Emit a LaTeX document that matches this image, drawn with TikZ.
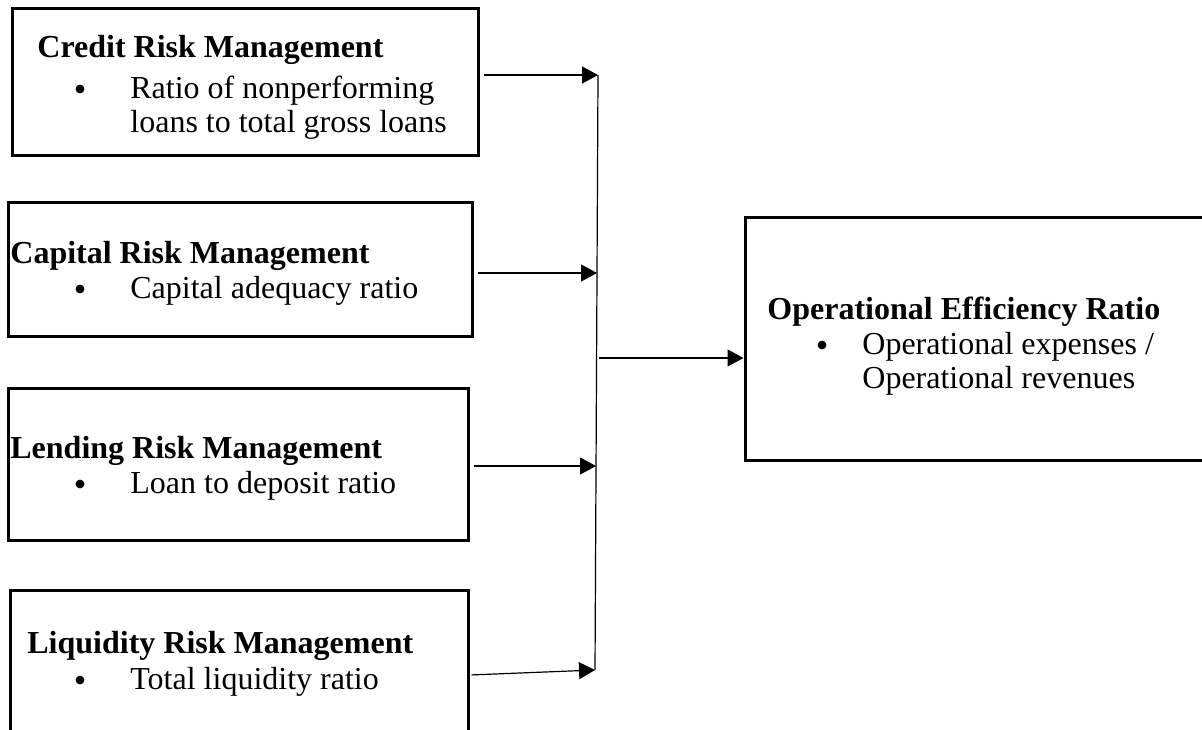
\documentclass[tikz,border=0pt]{standalone}
\usepackage{fontspec}
\setmainfont{Liberation Serif}
\usetikzlibrary{arrows.meta,fit}

\tikzset{
  riskbox/.style={draw, line width=1.5pt, inner sep=0pt},
  head/.style={anchor=base west, inner sep=0pt, font=\fontsize{16}{18}\selectfont\bfseries},
  point/.style={anchor=base west, inner sep=0pt, align=left, font=\fontsize{16}{17}\selectfont},
  dot/.style={circle, fill, inner sep=0pt, minimum size=4.4pt},
  feed/.style={-{Triangle[length=8pt,width=8.5pt]}, line width=0.6pt},
}

\begin{document}
\begin{tikzpicture}[x=0.5pt, y=-0.5pt]
  % --- RAMKA OBRAZKA ---
  \useasboundingbox (0,0) rectangle (1202,729);
  \clip (0,0) rectangle (1202,729);

  % Ramki czynnikow ryzyka
  \node[riskbox, fit={(12,8) (478,155)}] (credit) {};
  \node[riskbox, fit={(8,202) (472,336)}] (capital) {};
  \node[riskbox, fit={(8,388) (468,540)}] (lending) {};
  \node[riskbox, fit={(10,590) (468,760)}] (liquidity) {};
  \node[riskbox, fit={(745,217) (1215,460)}] (outcome) {};

  % Teksty w ramkach (wielowierszowe: base = ostatni wiersz)
  \node[head] (creditT) at (37,57) {Credit Risk Management};
  \node[dot] (creditB) at (80,89) {};
  \node[point] (creditP) at (130,132) {Ratio of nonperforming\\loans to total gross loans};
  \node[head] (capitalT) at (10,263) {Capital Risk Management};
  \node[dot] (capitalB) at (80,289) {};
  \node[point] (capitalP) at (130,298) {Capital adequacy ratio};
  \node[head] (lendingT) at (10,458) {Lending Risk Management};
  \node[dot] (lendingB) at (80,484) {};
  \node[point] (lendingP) at (130,493) {Loan to deposit ratio};
  \node[head] (liquidityT) at (27,653) {Liquidity Risk Management};
  \node[dot] (liquidityB) at (80,680) {};
  \node[point] (liquidityP) at (130,689) {Total liquidity ratio};
  \node[head] (outcomeT) at (767,319) {Operational Efficiency Ratio};
  \node[dot] (outcomeB) at (822,345) {};
  \node[point] (outcomeP) at (862,388) {Operational expenses /\\Operational revenues};

  % Szyna zbiorcza
  \coordinate (j1) at (598,75);
  \coordinate (j2) at (597,273);
  \coordinate (j3) at (596,466);
  \coordinate (j4) at (595,670);
  \coordinate (hub) at (599,358);
  \draw[line width=0.6pt] (j1) -- (j4);

  % Strzalki
  \draw[feed, shorten <=2pt] (credit.east |- j1) -- (j1);
  \draw[feed, shorten <=2pt] (capital.east |- j2) -- (j2);
  \draw[feed, shorten <=2pt] (lending.east |- j3) -- (j3);
  \draw[feed, shorten <=1pt] (liquidity.east) -- (j4);
  \draw[feed] (hub) -- (hub -| outcome.west);
\end{tikzpicture}
\end{document}
